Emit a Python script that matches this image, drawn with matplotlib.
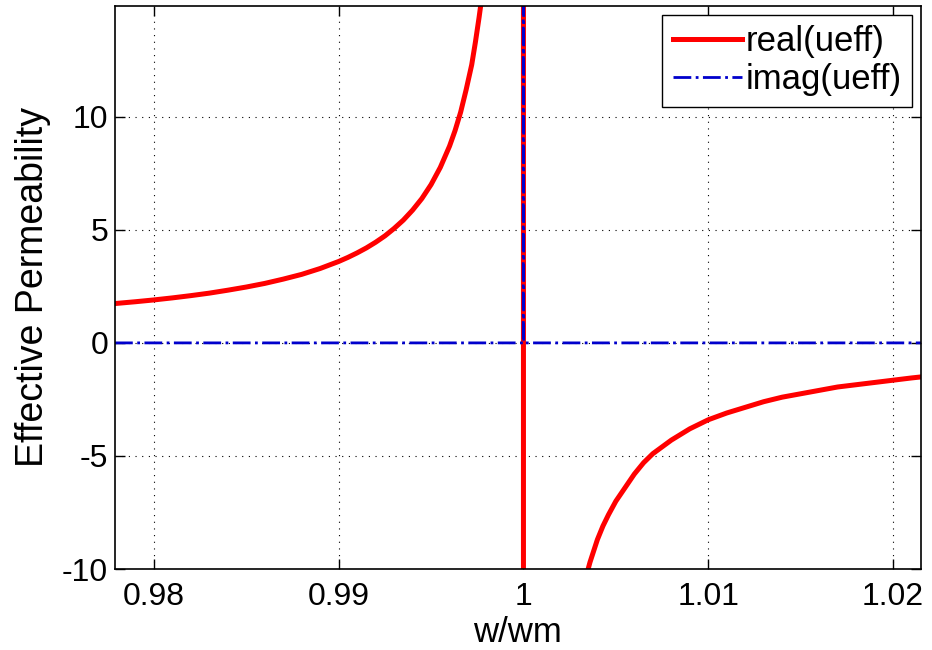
import numpy as np
import matplotlib.pyplot as plt

plt.rcParams['font.family'] = ['Liberation Sans', 'DejaVu Sans']

# Valores (w/wm, permeabilidad efectiva)
w_left = [0.9779, 0.979, 0.980, 0.981, 0.982, 0.983, 0.984, 0.985, 0.986, 0.987,
          0.988, 0.989, 0.990, 0.9905, 0.991, 0.9915, 0.992, 0.9925, 0.993, 0.9935,
          0.994, 0.9945, 0.995, 0.9955, 0.996, 0.9963, 0.9966, 0.9969, 0.9972, 0.9974,
          0.9976, 0.9978, 0.99999]
real_left = [1.74, 1.82, 1.90, 1.99, 2.09, 2.20, 2.33, 2.47, 2.63, 2.82,
             3.03, 3.29, 3.60, 3.78, 3.98, 4.20, 4.45, 4.73, 5.06, 5.43,
             5.87, 6.38, 7.00, 7.76, 8.70, 9.39, 10.2, 11.2, 12.3, 13.3,
             14.4, 15.6, 1000]
w_right = [1.00001, 1.0034, 1.0036, 1.0038, 1.004, 1.0043, 1.0046, 1.005, 1.0055, 1.006,
           1.0065, 1.007, 1.0075, 1.008, 1.009, 1.010, 1.011, 1.012, 1.013, 1.014,
           1.015, 1.016, 1.017, 1.018, 1.019, 1.020, 1.021, 1.0218]
real_right = [-1000, -10.3, -9.7, -9.2, -8.7, -8.1, -7.6, -7.0, -6.4, -5.8,
              -5.3, -4.9, -4.6, -4.3, -3.8, -3.4, -3.1, -2.85, -2.6, -2.4,
              -2.25, -2.1, -1.95, -1.85, -1.75, -1.65, -1.55, -1.48]

w_imag = [0.9779, 0.99999, 1.0, 1.00001, 1.0218]
imag_vals = [0, 0, 1000, 0, 0]

w = w_left + w_right
real_u = real_left + real_right

fig = plt.figure(figsize=(9.32, 6.5), dpi=100)
ax = fig.add_axes([0.1234, 0.1246, 0.988 - 0.1234, 0.9908 - 0.1246])

ax.plot(w, real_u, color='#ff0000', lw=3.6, label='real(ueff)')
ax.plot(w_imag, imag_vals, color='#0000cc', lw=2.0, ls='-.', label='imag(ueff)')

ax.set_xlim(0.9779, 1.0215)
ax.set_ylim(-10, 14.9)
ax.set_xticks([0.98, 0.99, 1.0, 1.01, 1.02])
ax.set_xticklabels(['0.98', '0.99', '1', '1.01', '1.02'])
ax.set_yticks([-10, -5, 0, 5, 10])
ax.set_yticklabels(['-10', '-5', '0', '5', '10'])
ax.tick_params(direction='in', length=7, width=1, labelsize=23, top=True, right=True)
ax.tick_params(axis='x', pad=9)
ax.tick_params(axis='y', pad=5)
ax.grid(True, color='black', ls=(0, (1, 5)), lw=0.8)
for s in ax.spines.values():
    s.set_linewidth(1.2)

ax.set_xlabel('w/wm', fontsize=25, labelpad=3)
ax.set_ylabel('Effective Permeability', fontsize=27, labelpad=8)

leg = ax.legend(loc='upper right', fontsize=25, fancybox=False, framealpha=1,
                edgecolor='black', borderpad=0.3, labelspacing=0.15, handlelength=2.0,
                handletextpad=0.1, borderaxespad=0.25)
leg.get_frame().set_linewidth(1.0)

fig.savefig('out.png', dpi=100)
